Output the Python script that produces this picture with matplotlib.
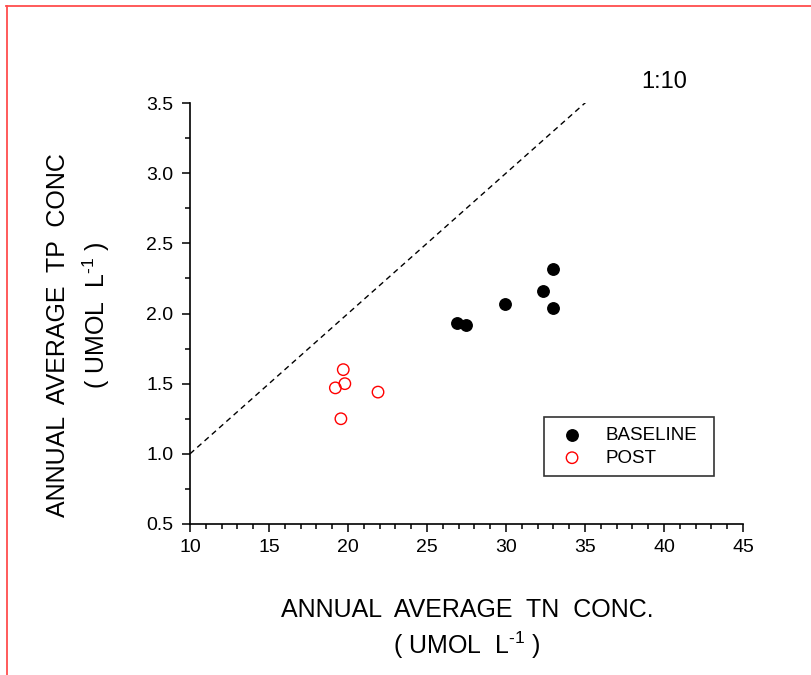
import numpy as np
import matplotlib.pyplot as plt
from matplotlib.lines import Line2D
from matplotlib.ticker import MultipleLocator

plt.rcParams['font.family'] = ['Liberation Sans', 'DejaVu Sans']
plt.rcParams['mathtext.fontset'] = 'custom'
plt.rcParams['mathtext.rm'] = 'Liberation Sans'

# baseline (black) and post (red open) points
tn_base = [26.9, 27.5, 29.95, 32.35, 32.95, 32.95]
tp_base = [1.93, 1.92, 2.07, 2.16, 2.32, 2.04]
tn_post = [19.7, 19.8, 19.2, 21.9, 19.55]
tp_post = [1.60, 1.50, 1.47, 1.44, 1.25]

# 1:10 reference line
ref_x = [10, 35.2]
ref_y = [1.0, 3.52]

fig = plt.figure(figsize=(8.11, 6.75), dpi=100)
ax = fig.add_axes([190/811, 1-524/675, 553/811, 421/675])

ax.plot(ref_x, ref_y, color='black', lw=1, dashes=(4, 3))
ax.scatter(tn_base, tp_base, s=68, color='black', label='BASELINE', zorder=3)
ax.scatter(tn_post, tp_post, s=68, facecolors='none', edgecolors='red',
           linewidths=1, label='POST', zorder=3)

ax.set_xlim(10, 45)
ax.set_ylim(0.5, 3.5)
ax.xaxis.set_major_locator(MultipleLocator(5))
ax.xaxis.set_minor_locator(MultipleLocator(1))
ax.yaxis.set_major_locator(MultipleLocator(0.5))
ax.yaxis.set_minor_locator(MultipleLocator(0.25))
ax.yaxis.set_major_formatter(plt.FormatStrFormatter('%.1f'))
ax.tick_params(which='major', direction='out', length=6, width=1.1, labelsize=14)
ax.tick_params(which='minor', direction='out', length=3.5, width=1.1)
ax.tick_params(axis='x', which='major', pad=5)
ax.tick_params(axis='y', which='major', pad=6)
for s in ['top', 'right']:
    ax.spines[s].set_visible(False)
for s in ['left', 'bottom']:
    ax.spines[s].set_linewidth(1.2)

ax.text(40.0, 3.65, '1:10', fontsize=17, ha='center', va='center')

leg = ax.legend(loc='lower left', bbox_to_anchor=(0.64, 0.114, 0.308, 0.14),
                mode='expand', borderaxespad=0, fancybox=False, fontsize=13.5,
                handletextpad=0.8, labelspacing=0.3, borderpad=0.5)
leg.get_frame().set_edgecolor('black')
leg.get_frame().set_linewidth(1.2)

fig.text(467/811, 1-610/675, 'ANNUAL  AVERAGE  TN  CONC.', fontsize=18,
         ha='center', va='center')
fig.text(467/811, 1-645/675, '( UMOL  L$^{\\text{-1}}$ )', fontsize=18,
         ha='center', va='center')
fig.text(58/811, 1-335/675, 'ANNUAL  AVERAGE  TP  CONC', fontsize=18,
         ha='center', va='center', rotation=90)
fig.text(96/811, 1-315/675, '( UMOL  L$^{\\text{-1}}$ )', fontsize=18,
         ha='center', va='center', rotation=90)

# red frame on top and left
fig.add_artist(Line2D([6/811, 1], [1-5.5/675, 1-5.5/675], color='#ff4d4d', lw=1.3))
fig.add_artist(Line2D([6.5/811, 6.5/811], [0, 1-5.5/675], color='#ff4d4d', lw=1.3))

fig.savefig('out.png', dpi=100)
